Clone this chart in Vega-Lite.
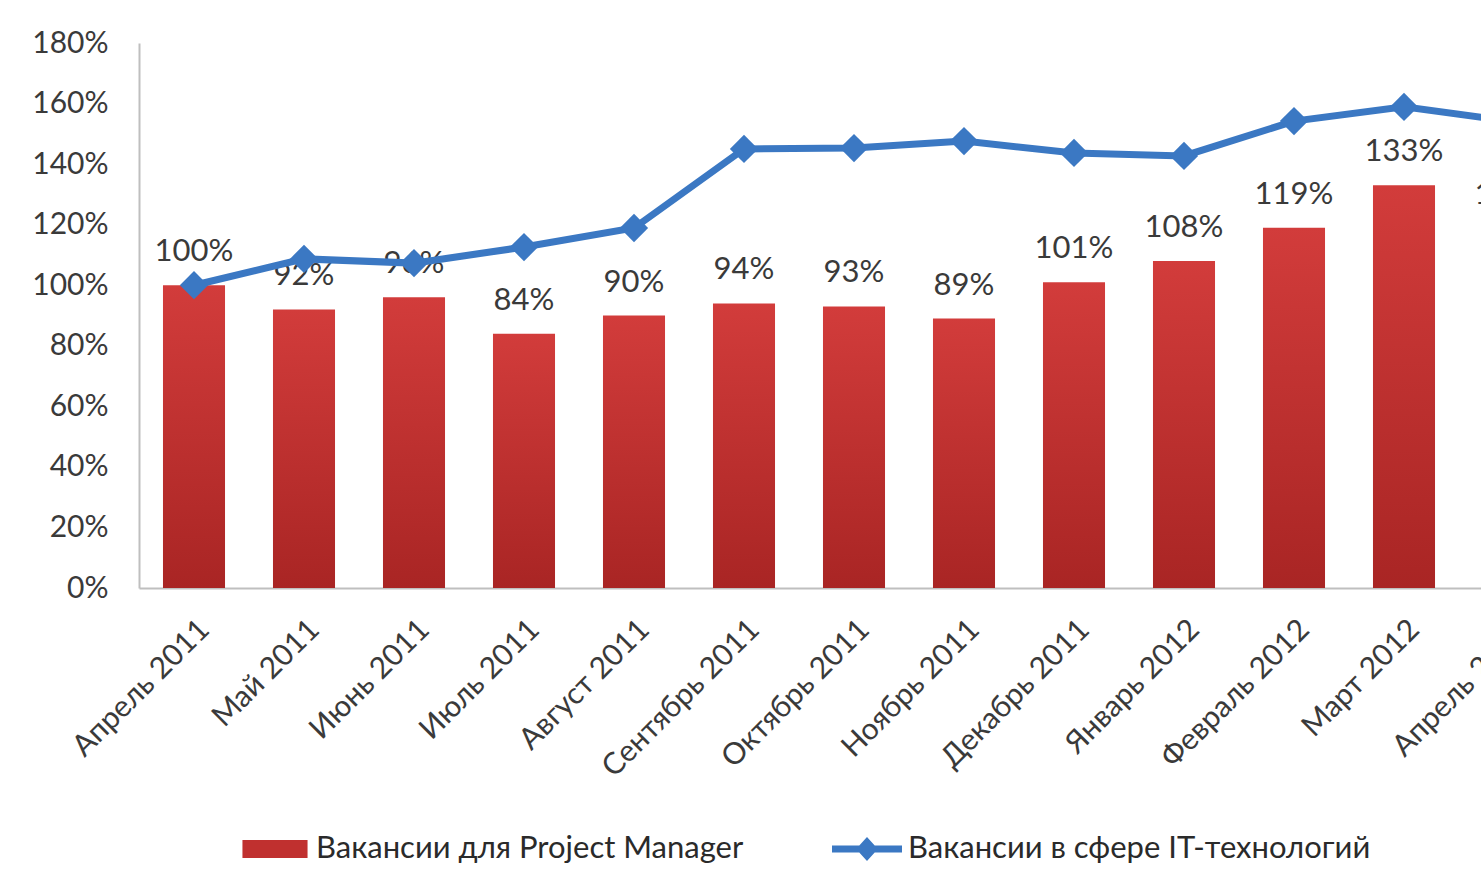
{
  "$schema": "https://vega.github.io/schema/vega-lite/v6.json",
  "width": 1430,
  "height": 545,
  "autosize": {"type": "none"},
  "padding": {"left": 139, "top": 43, "right": 0, "bottom": 303},
  "background": "white",
  "config": {
    "view": {"stroke": null},
    "font": "Lato",
    "axis": {"labelFont": "Lato", "labelFontSize": 30, "labelColor": "#3a3a3a", "labelLimit": 0, "grid": false, "ticks": false, "domainColor": "#bfbfbf", "domainWidth": 2, "title": null},
    "legend": {"labelFont": "Lato", "labelFontSize": 31, "labelColor": "#2a2a2a", "labelLimit": 0}
  },
  "data": {
    "values": [
      {"month": "Апрель 2011", "pm": 100, "it": 100},
      {"month": "Май 2011", "pm": 92, "it": 108.7},
      {"month": "Июнь 2011", "pm": 96, "it": 107.3},
      {"month": "Июль 2011", "pm": 84, "it": 112.6},
      {"month": "Август 2011", "pm": 90, "it": 118.9},
      {"month": "Сентябрь 2011", "pm": 94, "it": 145},
      {"month": "Октябрь 2011", "pm": 93, "it": 145.3},
      {"month": "Ноябрь 2011", "pm": 89, "it": 147.6},
      {"month": "Декабрь 2011", "pm": 101, "it": 143.7},
      {"month": "Январь 2012", "pm": 108, "it": 142.7},
      {"month": "Февраль 2012", "pm": 119, "it": 154.2},
      {"month": "Март 2012", "pm": 133, "it": 158.9},
      {"month": "Апрель 2012", "pm": 119, "it": 154}
    ]
  },
  "encoding": {
    "x": {
      "field": "month", "type": "nominal", "sort": null,
      "scale": {"paddingInner": 0.436, "paddingOuter": 0.218},
      "axis": {"labelAngle": -45, "labelPadding": 26}
    }
  },
  "layer": [
    {
      "mark": {
        "type": "bar",
        "fill": {"gradient": "linear", "x1": 0, "y1": 0, "x2": 0, "y2": 1,
          "stops": [{"offset": 0, "color": "#d23c3b"}, {"offset": 1, "color": "#a92524"}]}
      },
      "encoding": {
        "y": {
          "field": "pm", "type": "quantitative",
          "scale": {"domain": [0, 180]},
          "axis": {"values": [0, 20, 40, 60, 80, 100, 120, 140, 160, 180], "labelExpr": "datum.value + '%'", "labelPadding": 31}
        }
      }
    },
    {
      "mark": {"type": "text", "baseline": "alphabetic", "dy": -24, "fontSize": 31, "color": "#3a3a3a", "font": "Lato", "text": {"expr": "datum.pm + '%'"}},
      "encoding": {
        "y": {"field": "pm", "type": "quantitative"}
      }
    },
    {
      "mark": {"type": "line", "color": "#3b78c3", "strokeWidth": 7},
      "encoding": {
        "y": {"field": "it", "type": "quantitative"},
        "color": {
          "datum": "Вакансии в сфере IT-технологий", "type": "nominal",
          "scale": {"domain": ["Вакансии для Project Manager", "Вакансии в сфере IT-технологий"], "range": ["#c0302f", "#3b78c3"]},
          "legend": {
            "title": null,
            "orient": "none",
            "direction": "horizontal",
            "legendX": 101,
            "legendY": 771,
            "symbolSize": 4900,
            "columnPadding": 88,
            "labelOffset": 6,
            "padding": 0,
            "encode": {
              "symbols": {
                "update": {
                  "shape": {"signal": "datum.value === 'Вакансии для Project Manager' ? 'M-0.93,-0.26H0.93V0.26H-0.93Z' : 'M-1,-0.1H-0.22L0,-0.34L0.22,-0.1H1V0.1H0.22L0,0.34L-0.22,0.1H-1Z'"},
                  "fill": {"signal": "datum.value === 'Вакансии для Project Manager' ? '#c0302f' : '#3b78c3'"},
                  "strokeWidth": {"value": 0},
                  "opacity": {"value": 1},
                  "fillOpacity": {"value": 1}
                }
              }
            }
          }
        }
      }
    },
    {
      "mark": {"type": "point", "shape": "diamond", "filled": true, "size": 800, "color": "#3b78c3", "opacity": 1},
      "encoding": {
        "y": {"field": "it", "type": "quantitative"}
      }
    }
  ]
}
